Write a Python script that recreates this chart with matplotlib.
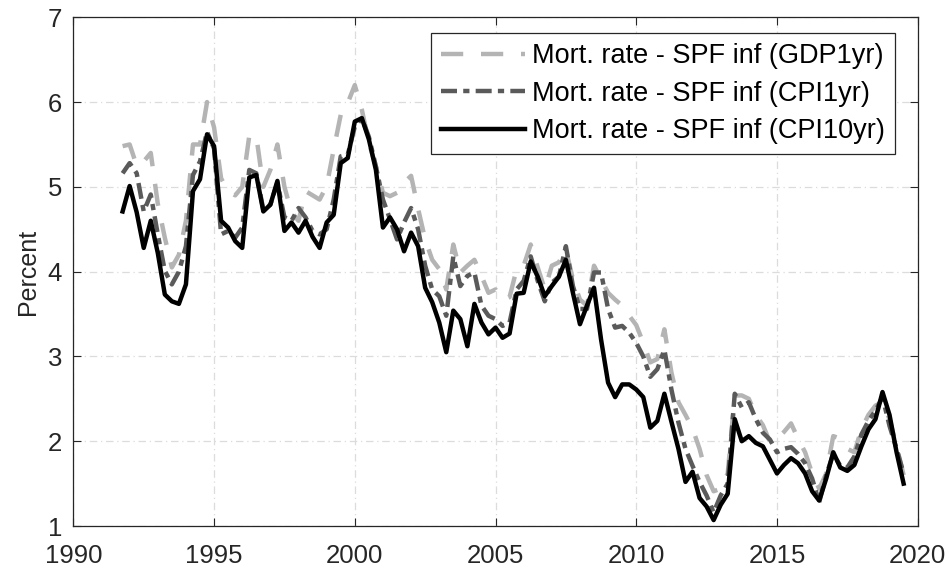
import numpy as np
import matplotlib
matplotlib.use("Agg")
import matplotlib.pyplot as plt

plt.rcParams['font.family'] = ['Liberation Sans', 'DejaVu Sans']

start_year = 1991.75
quarter = 0.25

gdp1yr = [5.48, 5.50, 5.25, 5.30, 5.40, 4.80, 4.40, 4.05, 4.20, 4.60,
          5.50, 5.50, 6.00, 5.70, 5.10, 4.95, 4.90, 5.00, 5.60, 5.60,
          5.00, 5.20, 5.50, 5.00, 4.70, 4.60, 4.95, 4.90, 4.85, 5.01,
          5.44, 5.85, 5.99, 6.20, 5.91, 5.52, 5.24, 4.93, 4.89, 4.93,
          5.05, 5.13, 4.74, 4.38, 4.14, 4.03, 3.79, 4.32, 3.99, 4.07,
          4.14, 3.95, 3.75, 3.79, 3.67, 3.70, 4.03, 4.07, 4.32, 4.05,
          3.79, 4.07, 4.11, 4.26, 3.91, 3.67, 3.60, 4.07, 3.91, 3.75,
          3.67, 3.60, 3.48, 3.37, 3.16, 2.93, 2.97, 3.32, 2.81, 2.46,
          2.31, 2.15, 1.91, 1.60, 1.41, 1.44, 1.62, 2.54, 2.54, 2.50,
          2.31, 2.19, 1.99, 2.03, 2.11, 2.21, 2.03, 1.87, 1.62, 1.44,
          1.62, 2.06, 2.03, 1.91, 1.87, 2.14, 2.31, 2.42, 2.46, 2.26,
          1.94, 1.60]

cpi1yr = [5.16, 5.28, 5.16, 4.71, 4.91, 4.44, 4.01, 3.85, 4.00, 4.30,
          5.14, 5.30, 5.65, 5.45, 4.44, 4.48, 4.40, 4.52, 5.20, 5.16,
          4.73, 4.79, 5.05, 4.64, 4.60, 4.75, 4.64, 4.48, 4.44, 4.50,
          4.85, 5.36, 5.38, 5.71, 5.81, 5.59, 5.24, 4.85, 4.62, 4.38,
          4.58, 4.75, 4.50, 4.07, 3.79, 3.71, 3.48, 4.18, 3.83, 3.95,
          3.99, 3.60, 3.48, 3.44, 3.36, 3.40, 3.79, 3.89, 4.18, 3.89,
          3.65, 3.87, 3.94, 4.30, 3.83, 3.56, 3.56, 3.99, 3.99, 3.56,
          3.34, 3.36, 3.28, 3.16, 3.00, 2.76, 2.85, 3.08, 2.61, 2.22,
          1.91, 1.71, 1.52, 1.36, 1.16, 1.36, 1.50, 2.56, 2.40, 2.46,
          2.26, 2.10, 2.02, 1.87, 1.91, 1.93, 1.85, 1.74, 1.56, 1.28,
          1.60, 1.85, 1.71, 1.69, 1.82, 2.08, 2.24, 2.36, 2.52, 2.18,
          1.91, 1.62]

cpi10yr = [4.71, 5.01, 4.70, 4.28, 4.60, 4.22, 3.73, 3.65, 3.62, 3.85,
           4.95, 5.09, 5.62, 5.48, 4.60, 4.52, 4.36, 4.28, 5.11, 5.14,
           4.71, 4.79, 5.07, 4.48, 4.58, 4.46, 4.60, 4.41, 4.28, 4.58,
           4.67, 5.28, 5.34, 5.77, 5.81, 5.56, 5.20, 4.52, 4.64, 4.50,
           4.24, 4.46, 4.30, 3.81, 3.64, 3.40, 3.05, 3.54, 3.44, 3.12,
           3.62, 3.40, 3.26, 3.34, 3.22, 3.27, 3.74, 3.75, 4.12, 3.94,
           3.71, 3.83, 3.94, 4.14, 3.75, 3.38, 3.60, 3.81, 3.20, 2.69,
           2.52, 2.67, 2.67, 2.61, 2.52, 2.16, 2.24, 2.56, 2.23, 1.91,
           1.52, 1.64, 1.33, 1.23, 1.07, 1.25, 1.38, 2.26, 2.00, 2.06,
           1.98, 1.94, 1.78, 1.62, 1.72, 1.80, 1.74, 1.62, 1.41, 1.30,
           1.56, 1.87, 1.69, 1.65, 1.72, 1.94, 2.14, 2.26, 2.58, 2.31,
           1.87, 1.50]

labels = ['Mort. rate - SPF inf (GDP1yr)',
          'Mort. rate - SPF inf (CPI1yr)',
          'Mort. rate - SPF inf (CPI10yr)']
xticks = [1990, 1995, 2000, 2005, 2010, 2015, 2020]
yticks = [1, 2, 3, 4, 5, 6, 7]

dates = start_year + quarter * np.arange(len(cpi10yr))

fig = plt.figure(figsize=(9.49, 5.72), dpi=100)
ax = fig.add_axes([0.0773, 0.0804, 0.8897, 0.8894])

ax.plot(dates, gdp1yr, color='#b4b4b4', lw=3.2, linestyle=(0, (5.0, 4.0)),
        label=labels[0], zorder=3)
ax.plot(dates, cpi1yr, color='#5a5a5a', lw=3.2, linestyle=(0, (3.6, 1.4, 1.4, 1.4)),
        label=labels[1], zorder=4)
ax.plot(dates, cpi10yr, color='black', lw=3.2, linestyle='-',
        label=labels[2], zorder=5)

ax.set_xlim(1990, 2020)
ax.set_ylim(1, 7)
ax.set_xticks(xticks)
ax.set_yticks(yticks)
ax.tick_params(direction='in', top=True, right=True, labelsize=18.5,
               length=6, width=0.8, colors='#262626')
ax.tick_params(axis='x', pad=13)
ax.tick_params(axis='y', pad=8)
ax.grid(True, linestyle=(0, (6, 3, 1, 3)), color='#dcdcdc', lw=0.9, zorder=0)
for s in ax.spines.values():
    s.set_color('#262626')
    s.set_linewidth(0.9)

ax.set_ylabel('Percent', fontsize=18, color='#262626', labelpad=6)

leg = ax.legend(loc='upper right', bbox_to_anchor=(0.973, 0.969),
                borderaxespad=0, fontsize=19.5, handlelength=3.1,
                handletextpad=0.25, labelspacing=0.42, borderpad=0.38,
                fancybox=False, framealpha=1, edgecolor='#262626')
leg.get_frame().set_linewidth(0.9)

fig.savefig('out.png', dpi=100)
